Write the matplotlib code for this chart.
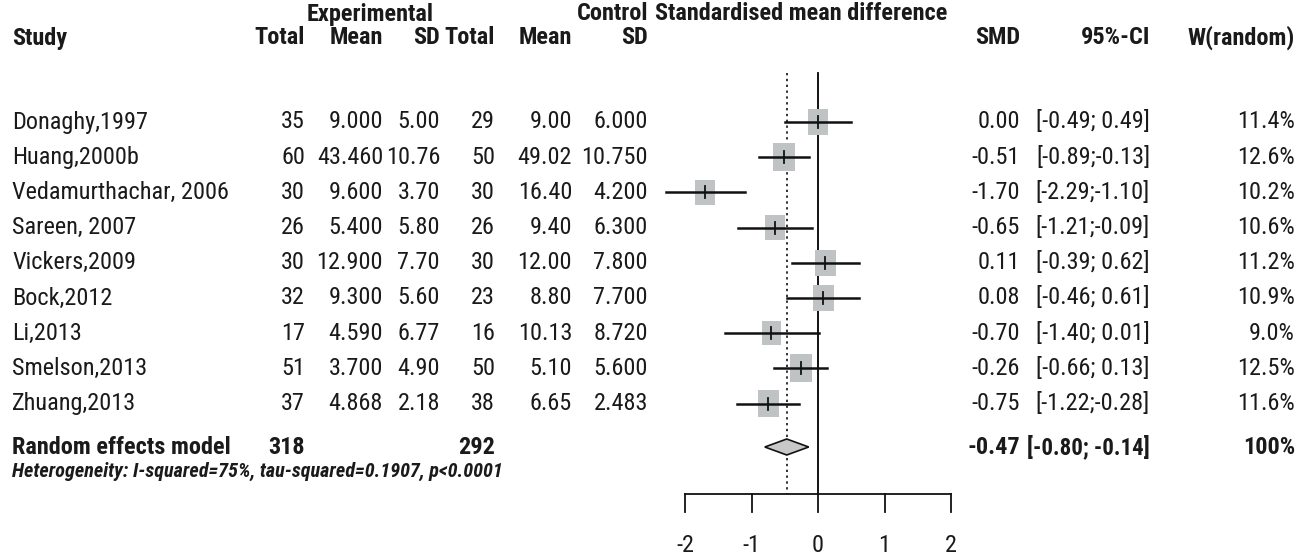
import numpy as np
import matplotlib
matplotlib.use("Agg")
import matplotlib.pyplot as plt
import matplotlib.transforms as mtransforms
from matplotlib.patches import Polygon

plt.rcParams['font.family'] = ['Roboto Condensed', 'IBM Plex Sans Condensed', 'Archivo Narrow',
                               'Liberation Sans', 'DejaVu Sans']

studies = ["Donaghy,1997", "Huang,2000b", "Vedamurthachar, 2006", "Sareen, 2007",
           "Vickers,2009", "Bock,2012", "Li,2013", "Smelson,2013", "Zhuang,2013"]
exp_total = [35, 60, 30, 26, 30, 32, 17, 51, 37]
exp_mean = ["9.000", "43.460", "9.600", "5.400", "12.900", "9.300", "4.590", "3.700", "4.868"]
exp_sd = ["5.00", "10.76", "3.70", "5.80", "7.70", "5.60", "6.77", "4.90", "2.18"]
ctl_total = [29, 50, 30, 26, 30, 23, 16, 50, 38]
ctl_mean = ["9.00", "49.02", "16.40", "9.40", "12.00", "8.80", "10.13", "5.10", "6.65"]
ctl_sd = ["6.000", "10.750", "4.200", "6.300", "7.800", "7.700", "8.720", "5.600", "2.483"]
smd = [0.00, -0.51, -1.70, -0.65, 0.11, 0.08, -0.70, -0.26, -0.75]
ci_lo = [-0.49, -0.89, -2.29, -1.21, -0.39, -0.46, -1.40, -0.66, -1.22]
ci_hi = [0.49, -0.13, -1.10, -0.09, 0.62, 0.61, 0.01, 0.13, -0.28]
weight = [11.4, 12.6, 10.2, 10.6, 11.2, 10.9, 9.0, 12.5, 11.6]

pooled = -0.47
pooled_lo = -0.80
pooled_hi = -0.14
total_exp = 318
total_ctl = 292
ticks = [-2, -1, 0, 1, 2]

W, H = 1303, 557
fig = plt.figure(figsize=(W / 100, H / 100), dpi=100)
ax = fig.add_axes([0, 0, 1, 1])
ax.axis("off")

# pixel layout -> data: row i at y = 122 + 35.2*i px, x: 0 at 818 px, 66.5 px per unit
y0, dy = 122, 35.2
x0, dx = 818, 66.5
ax.set_xlim(-x0 / dx, (W - x0) / dx)
ax.set_ylim((H - y0) / dy, -y0 / dy)

def py(p):
    return (p - y0) / dy

tr = mtransforms.blended_transform_factory(fig.transFigure, ax.transData)
fs = 17.5
col = "#1a1a1a"
bw = 600

def txt(xpx, y, s, ha="right", **kw):
    kw.setdefault("fontsize", fs)
    kw.setdefault("color", col)
    ax.text(xpx / W, y, s, transform=tr, ha=ha, va="center", **kw)

# headers
yh1, yh2 = py(14), py(38)
txt(370, yh1, "Experimental", ha="center", fontweight=bw)
txt(648, yh1, "Control", fontweight=bw)
txt(655, yh1, "Standardised mean difference", ha="left", fontweight=bw)
txt(12, yh2, "Study", ha="left", fontweight=bw)
for xp, s in [(305, "Total"), (383, "Mean"), (440, "SD"), (495, "Total"), (572, "Mean"),
              (648, "SD"), (1020, "SMD"), (1150, "95%-CI"), (1295, "W(random)")]:
    txt(xp, yh2, s, fontweight=bw)

rows = np.arange(len(studies))
for i in rows:
    txt(12, i, studies[i], ha="left")
    txt(305, i, str(exp_total[i]))
    txt(383, i, exp_mean[i])
    txt(440, i, exp_sd[i])
    txt(495, i, str(ctl_total[i]))
    txt(572, i, ctl_mean[i])
    txt(648, i, ctl_sd[i])
    txt(1020, i, "%.2f" % smd[i])
    txt(1150, i, "[%.2f;%s]" % (ci_lo[i], (" " if ci_hi[i] >= 0 else "") + "%.2f" % ci_hi[i]))
    txt(1295, i, "%.1f%%" % weight[i])

# pooled row
yr = py(447)
txt(12, yr, "Random effects model", ha="left", fontweight=bw)
txt(305, yr, str(total_exp), fontweight=bw)
txt(495, yr, str(total_ctl), fontweight=bw)
txt(1020, yr, "%.2f" % pooled, fontweight=bw)
txt(1150, yr, "[%.2f; %.2f]" % (pooled_lo, pooled_hi), fontweight=bw, fontsize=16.5)
txt(1295, yr, "100%", fontweight=bw)
txt(12, py(471), "Heterogeneity: I-squared=75%, tau-squared=0.1907, p<0.0001", ha="left",
    fontsize=14.5, fontweight=bw, fontstyle="italic")

# reference lines
ytop, yax = py(73), py(494)
ax.plot([0, 0], [ytop, yax], color="black", lw=1.3, zorder=1)
ax.plot([pooled, pooled], [ytop, yax], color="#333333", lw=1.4, ls=(0, (1.2, 1.8)), zorder=1)

# study estimates, box area proportional to weight
for i in rows:
    hw = 22 * np.sqrt(weight[i] / 12.6) / dx / 2
    hh = 28 * np.sqrt(weight[i] / 12.6) / dy / 2
    ax.fill([smd[i] - hw, smd[i] + hw, smd[i] + hw, smd[i] - hw],
            [i - hh, i - hh, i + hh, i + hh], color="#bfc3c3", zorder=2, lw=0)
    ax.plot([ci_lo[i], ci_hi[i]], [i, i], color="#111111", lw=1.8, zorder=3)
    ax.plot([smd[i], smd[i]], [i - 0.17, i + 0.17], color="#111111", lw=1.3, zorder=3)

# diamond
dh = 8 / dy
ax.add_patch(Polygon([[pooled_lo, yr], [pooled, yr - dh], [pooled_hi, yr], [pooled, yr + dh]],
                     closed=True, facecolor="#c8c8c8", edgecolor="#111111", lw=1.2, zorder=3))

# x axis
ax.plot([ticks[0], ticks[-1]], [yax, yax], color="#111111", lw=1.3)
for t in ticks:
    ax.plot([t, t], [yax, py(512)], color="#111111", lw=1.3)
    ax.text(t, py(546), str(t), ha="center", va="center", fontsize=fs, color=col)

fig.savefig("out.png", dpi=100, facecolor="white")
